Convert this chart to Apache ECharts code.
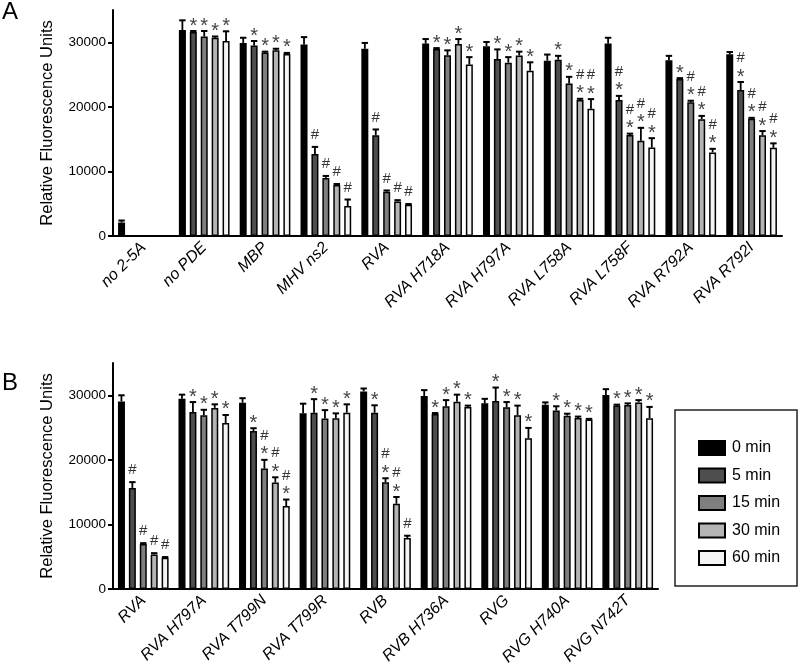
<!DOCTYPE html>
<html>
<head>
<meta charset="utf-8">
<script src="https://cdn.jsdelivr.net/npm/echarts@6/dist/echarts.min.js"></script>
<style>html,body{margin:0;padding:0;background:#fff}#c{width:800px;height:669px}</style>
</head>
<body>
<div id="c"></div>
<script>
// ---------- Data ----------
const timeNames = ['0 min', '5 min', '15 min', '30 min', '60 min'];
const yTicks = [0, 10000, 20000, 30000];

// Panel A
const catsA = ['no 2-5A', 'no PDE', 'MBP', 'MHV ns2', 'RVA', 'RVA H718A', 'RVA H797A', 'RVA L758A', 'RVA L758F', 'RVA R792A', 'RVA R792I'];
const a0  = [2100, 31900, 29900, 29650, 29000, 29800, 29400, 27150, 29800, 27200, 28150];
const a5  = [null, 31600, 29500, 12700, 15600, 28950, 27400, 27300, 21050, 24300, 22600];
const a15 = [null, 30900, 28400, 9000, 6850, 28000, 26850, 23600, 15650, 20700, 18150];
const a30 = [null, 30700, 28750, 7900, 5350, 29750, 27950, 21050, 14750, 18100, 15600];
const a60 = [null, 30200, 28200, 4650, 4850, 26550, 25600, 19700, 13700, 12950, 13650];
const errA0  = [300, 1500, 800, 1150, 900, 700, 650, 950, 900, 700, 350];
const errA5  = [null, 150, 700, 1100, 900, 150, 1500, 600, 650, 150, 1250];
const errA15 = [null, 850, 150, 300, 200, 750, 850, 1050, 200, 250, 150];
const errA30 = [null, 200, 250, 150, 200, 750, 600, 200, 2000, 500, 650];
const errA60 = [null, 1500, 150, 1000, 100, 1150, 1300, 1500, 1450, 550, 700];
const sigA0  = ['', '', '', '', '', '', '', '', '', '', ''];
const sigA5  = ['', '*', '*', '#', '#', '*', '*', '*', '#*', '*', '#*'];
const sigA15 = ['', '*', '*', '#', '#', '*', '*', '*', '#*', '#*', '#*'];
const sigA30 = ['', '*', '*', '#', '#', '*', '*', '#*', '#*', '#*', '#*'];
const sigA60 = ['', '*', '*', '#', '#', '*', '*', '#*', '#*', '#*', '#*'];

// Panel B
const catsB = ['RVA', 'RVA H797A', 'RVA T799N', 'RVA T799R', 'RVB', 'RVB H736A', 'RVG', 'RVG H740A', 'RVG N742T'];
const b0  = [29050, 29450, 28850, 27200, 30600, 29900, 28750, 28550, 30050];
const b5  = [15650, 27400, 24450, 27300, 27300, 27100, 29100, 27650, 28400];
const b15 = [6950, 26900, 18650, 26400, 16550, 28300, 28150, 26850, 28500];
const b30 = [5350, 28050, 16500, 26450, 13200, 29000, 26900, 26500, 28900];
const b60 = [4850, 25700, 12850, 27300, 7900, 28200, 23350, 26250, 26450];
const errB0  = [950, 650, 700, 1500, 450, 900, 700, 350, 900];
const errB5  = [900, 1550, 450, 2100, 1150, 150, 2100, 650, 150];
const errB15 = [150, 850, 1350, 1300, 600, 950, 800, 300, 250];
const errB30 = [200, 550, 800, 750, 1050, 1100, 1500, 200, 350];
const errB60 = [100, 1250, 1000, 1300, 350, 200, 1600, 100, 1750];
const sigB0  = ['', '', '', '', '', '', '', '', ''];
const sigB5  = ['#', '*', '*', '*', '*', '*', '*', '*', '*'];
const sigB15 = ['#', '*', '#*', '*', '#*', '*', '*', '*', '*'];
const sigB30 = ['#', '*', '#*', '*', '#*', '*', '*', '*', '*'];
const sigB60 = ['#', '*', '#*', '*', '#', '*', '*', '*', '*'];

// ---------- Styling ----------
const FONT = 'Liberation Sans, Arial, Helvetica, sans-serif';
const fills = ['#000000', '#4e4e4e', '#7f7f7f', '#b4b4b4', '#f4f4f4'];
const BAR_W = 7;
const BAR_GAP = 0.56;
const PITCH = BAR_W * (1 + BAR_GAP);

const chart = echarts.init(document.getElementById('c'), null, {renderer: 'canvas'});

function xAxisFor(gi, cats) {
  return {
    type: 'category', gridIndex: gi, data: cats,
    axisLine: {lineStyle: {color: '#000', width: 2}},
    axisTick: {alignWithLabel: true, length: 5, lineStyle: {color: '#000', width: 2}},
    axisLabel: {rotate: 45, interval: 0, margin: 9, color: '#000', fontSize: 16, fontStyle: 'italic', fontFamily: FONT}
  };
}
function yAxisFor(gi) {
  return {
    type: 'value', gridIndex: gi, min: 0, max: 35000,
    name: 'Relative Fluorescence Units', nameLocation: 'middle', nameGap: 57,
    nameTextStyle: {fontSize: 16.5, color: '#000', fontFamily: FONT},
    splitLine: {show: false},
    axisLine: {show: true, lineStyle: {color: '#000', width: 2}},
    axisTick: {show: true, length: 5, customValues: yTicks, lineStyle: {color: '#000', width: 2}},
    axisLabel: {customValues: yTicks, formatter: v => String(v), color: '#000', fontSize: 13.5, fontFamily: FONT, margin: 7}
  };
}

function barSeries(gi, k, vals) {
  return {
    type: 'bar', name: timeNames[k], xAxisIndex: gi, yAxisIndex: gi,
    data: vals.map(v => v == null ? '-' : v),
    barWidth: BAR_W, barGap: (BAR_GAP * 100) + '%',
    itemStyle: {color: fills[k], borderColor: '#000', borderWidth: 1.5},
    emphasis: {disabled: true},
    z: 2
  };
}

function errSeries(gi, k, vals, errs, sigs) {
  const items = [];
  vals.forEach((v, i) => { if (v != null) items.push({cat: i, v: v, e: errs[i], s: sigs[i]}); });
  return {
    type: 'custom', name: 'err' + gi + '_' + k, xAxisIndex: gi, yAxisIndex: gi,
    data: items.map(it => [it.cat, it.v, it.e]),
    z: 5, silent: true,
    renderItem: function (params, api) {
      const it = items[params.dataIndex];
      const base = api.coord([it.cat, it.v]);
      const top = api.coord([it.cat, it.v + it.e]);
      const x = base[0] + (k - 2) * PITCH;
      const ty = top[1];
      const children = [
        {type: 'line', shape: {x1: x, y1: base[1], x2: x, y2: ty}, style: {stroke: '#000', lineWidth: 1.8}},
        {type: 'line', shape: {x1: x - 3.2, y1: ty, x2: x + 3.2, y2: ty}, style: {stroke: '#000', lineWidth: 2}}
      ];
      const s = it.s || '';
      const hasStar = s.indexOf('*') >= 0;
      const hasHash = s.indexOf('#') >= 0;
      if (hasStar) {
        children.push({type: 'text', style: {text: '*', x: x, y: ty - 5, fill: '#444', font: '20px ' + FONT, textAlign: 'center', textVerticalAlign: 'middle'}});
      }
      if (hasHash) {
        const hy = hasStar ? ty - 24 : ty - 12;
        children.push({type: 'text', style: {text: '#', x: x, y: hy, fill: '#333', font: '15px ' + FONT, textAlign: 'center', textVerticalAlign: 'middle'}});
      }
      return {type: 'group', children: children};
    }
  };
}

const valsA = [a0, a5, a15, a30, a60];
const errsA = [errA0, errA5, errA15, errA30, errA60];
const sigsA = [sigA0, sigA5, sigA15, sigA30, sigA60];
const valsB = [b0, b5, b15, b30, b60];
const errsB = [errB0, errB5, errB15, errB30, errB60];
const sigsB = [sigB0, sigB5, sigB15, sigB30, sigB60];

const series = [];
for (let k = 0; k < 5; k++) series.push(barSeries(0, k, valsA[k]));
for (let k = 0; k < 5; k++) series.push(barSeries(1, k, valsB[k]));
for (let k = 0; k < 5; k++) series.push(errSeries(0, k, valsA[k], errsA[k], sigsA[k]));
for (let k = 0; k < 5; k++) series.push(errSeries(1, k, valsB[k], errsB[k], sigsB[k]));

chart.setOption({
  animation: false,
  backgroundColor: '#fff',
  textStyle: {fontFamily: FONT},
  title: [
    {text: 'A', left: 2, top: 0, padding: 0, textStyle: {fontSize: 24, fontWeight: 'normal', color: '#000', fontFamily: FONT}},
    {text: 'B', left: 2, top: 371, padding: 0, textStyle: {fontSize: 24, fontWeight: 'normal', color: '#000', fontFamily: FONT}}
  ],
  grid: [
    {left: 113, right: 18, top: 10, bottom: 433, containLabel: false},
    {left: 113, right: 142, top: 363, bottom: 80, containLabel: false}
  ],
  xAxis: [xAxisFor(0, catsA), xAxisFor(1, catsB)],
  yAxis: [yAxisFor(0), yAxisFor(1)],
  legend: {
    data: timeNames, orient: 'vertical', left: 675, top: 410,
    padding: [30, 17, 20, 23], itemWidth: 26, itemHeight: 14, itemGap: 11.5,
    borderColor: '#222', borderWidth: 1.5, selectedMode: false,
    icon: 'rect',
    textStyle: {fontSize: 16, color: '#000', fontFamily: FONT, padding: [0, 0, 0, 2]}
  },
  series: series
});
</script>
</body>
</html>
